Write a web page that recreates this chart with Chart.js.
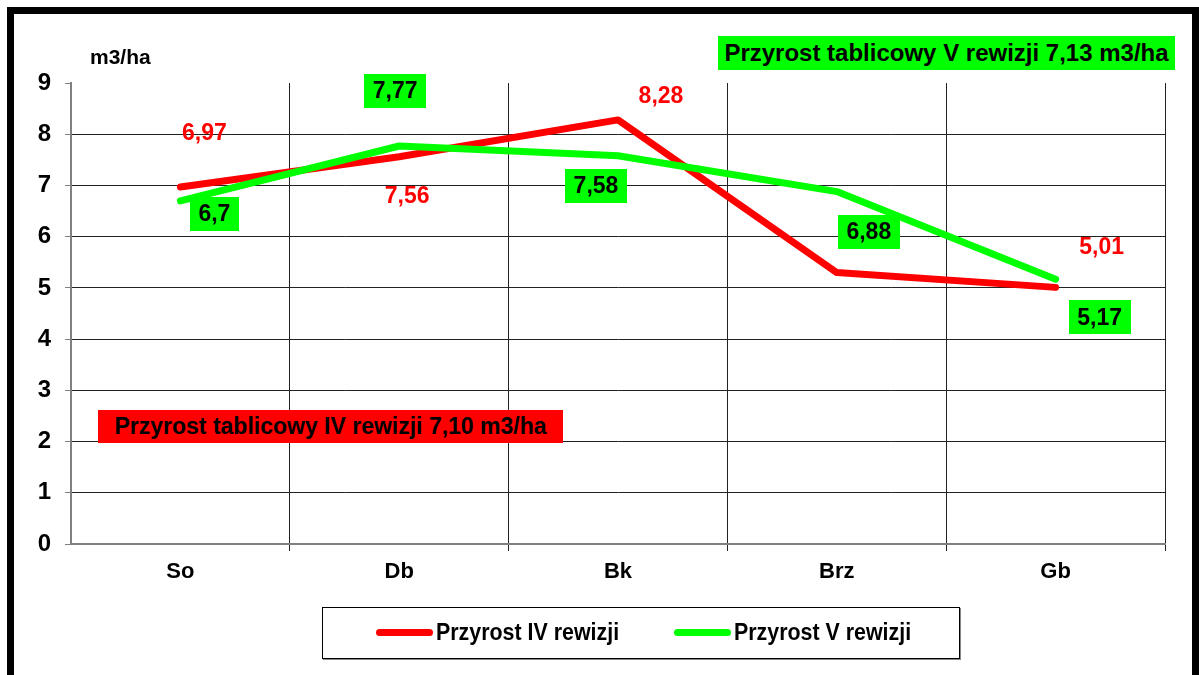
<!DOCTYPE html>
<html>
<head>
<meta charset="utf-8">
<script src="https://cdn.jsdelivr.net/npm/chart.js@4"></script>
<style>
  html, body { margin: 0; padding: 0; background: #fff; overflow: hidden; }
  #wrap { position: relative; width: 1199px; height: 675px; font-family: "Liberation Sans", Arial, sans-serif; }
  #frame { position: absolute; left: 7px; top: 7px; width: 1178px; height: 680px; border: 7px solid #000; box-sizing: content-box; pointer-events: none; }
  canvas { position: absolute; left: 0; top: 0; }
  .note { position: absolute; font-weight: bold; color: #000; white-space: nowrap; text-align: center; }
  #unit { position: absolute; left: 90px; top: 45px; font-weight: bold; font-size: 21px; }
  #legend { position: absolute; left: 322px; top: 607px; width: 636px; height: 50px; border: 1px solid #000; box-shadow: 1px 1px 0 #888; background: #fff;
    font-weight: bold; font-size: 23px; }
  .item { position: absolute; top: 11px; display: flex; align-items: center; }
  .swatch { width: 57px; height: 7px; border-radius: 4px; margin-right: 3px; }
  .item span { display: inline-block; transform: scaleX(0.93); transform-origin: left center; }
</style>
</head>
<body>
<div id="wrap">
  <canvas id="chart" width="1199" height="675"></canvas>
  <div id="unit">m3/ha</div>
  <div class="note" style="left:718px; top:36px; width:457px; height:34px; line-height:34px; font-size:24px; background:#00ff00;">Przyrost tablicowy V rewizji 7,13 m3/ha</div>
  <div class="note" style="left:98px; top:410px; width:465px; height:33px; line-height:33px; font-size:23px; background:#ff0000;">Przyrost tablicowy IV rewizji 7,10 m3/ha</div>
  <div id="legend"></div>
  <div id="frame"></div>
</div>
<script>
const categories = ["So", "Db", "Bk", "Brz", "Gb"];
const seriesIV = [6.97, 7.56, 8.28, 5.30, 5.01];
const seriesV = [6.70, 7.77, 7.58, 6.88, 5.17];
const yTicks = [0, 1, 2, 3, 4, 5, 6, 7, 8, 9];

const seriesNames = ["Przyrost IV rewizji", "Przyrost V rewizji"];
const seriesColors = ["#ff0000", "#00ff00"];

// label offsets from each point (px), chosen to mimic the original placement
const labelOffsetsIV = [[24, -53], [8, 40], [43, -23], [30, -40], [46, -40]];
const labelOffsetsV = [[34, 13], [-4, -55], [-22, 30], [32, 40], [44, 38]];

function fmt(v) {
  return v.toFixed(2).replace(/0$/, "").replace(/\.0$/, "").replace(".", ",");
}

const valueLabels = {
  id: "valueLabels",
  afterDatasetsDraw(chart) {
    const ctx = chart.ctx;
    ctx.save();
    ctx.font = "bold 23px 'Liberation Sans', Arial, sans-serif";
    ctx.textAlign = "center";
    ctx.textBaseline = "middle";
    // red labels first, green boxes on top (Brz red label ends up hidden, as in the original)
    const metaIV = chart.getDatasetMeta(0);
    metaIV.data.forEach((pt, i) => {
      const [dx, dy] = labelOffsetsIV[i];
      ctx.fillStyle = "#ff0000";
      ctx.fillText(fmt(seriesIV[i]), pt.x + dx, pt.y + dy);
    });
    const metaV = chart.getDatasetMeta(1);
    metaV.data.forEach((pt, i) => {
      const [dx, dy] = labelOffsetsV[i];
      const txt = fmt(seriesV[i]);
      const w = ctx.measureText(txt).width + 17;
      const h = 34;
      const cx = pt.x + dx, cy = pt.y + dy;
      ctx.fillStyle = "#00ff00";
      ctx.fillRect(Math.round(cx - w / 2), Math.round(cy - h / 2), Math.round(w), h);
      ctx.fillStyle = "#000";
      ctx.fillText(txt, cx, cy + 1);
    });
    ctx.restore();
  }
};

const legend = document.getElementById("legend");
[[53, 0], [351, 1]].forEach(([left, i]) => {
  const item = document.createElement("div");
  item.className = "item";
  item.style.left = left + "px";
  item.innerHTML = `<div class="swatch" style="background:${seriesColors[i]}"></div><span>${seriesNames[i]}</span>`;
  legend.appendChild(item);
});

new Chart(document.getElementById("chart"), {
  type: "line",
  data: {
    labels: categories,
    datasets: [
      { label: seriesNames[0], data: seriesIV, borderColor: seriesColors[0], borderWidth: 7, pointRadius: 0, borderCapStyle: "round", borderJoinStyle: "round", order: 2 },
      { label: seriesNames[1], data: seriesV, borderColor: seriesColors[1], borderWidth: 7, pointRadius: 0, borderCapStyle: "round", borderJoinStyle: "round", order: 1 }
    ]
  },
  options: {
    responsive: false,
    animation: false,
    layout: { padding: { left: 14, top: 83, right: 34, bottom: 0 } },
    plugins: { legend: { display: false }, tooltip: { enabled: false } },
    scales: {
      x: {
        offset: true,
        afterFit: (s) => { s.height = 131; },
        grid: {
          offset: true,
          color: (c) => (c.index === 0 || c.index === 5 ? "rgba(0,0,0,0)" : "#222"),
          lineWidth: 1,
          tickLength: 7
        },
        border: { display: true, color: "#808080", width: 2 },
        ticks: { color: "#000", padding: 8, font: { family: "'Liberation Sans', Arial", size: 22, weight: "bold" } }
      },
      y: {
        min: 0,
        max: 9,
        afterFit: (s) => { s.width = 57; },
        afterBuildTicks: (s) => { s.ticks = yTicks.map((v) => ({ value: v })); },
        grid: {
          color: (c) => (c.tick && (c.tick.value === 9 || c.tick.value === 0) ? "rgba(0,0,0,0)" : "#222"),
          lineWidth: 1,
          tickLength: 6,
          tickColor: "#808080"
        },
        border: { display: true, color: "#808080", width: 2 },
        ticks: { color: "#000", padding: 14, font: { family: "'Liberation Sans', Arial", size: 24, weight: "bold" } }
      }
    }
  },
  plugins: [valueLabels]
});
</script>
</body>
</html>
